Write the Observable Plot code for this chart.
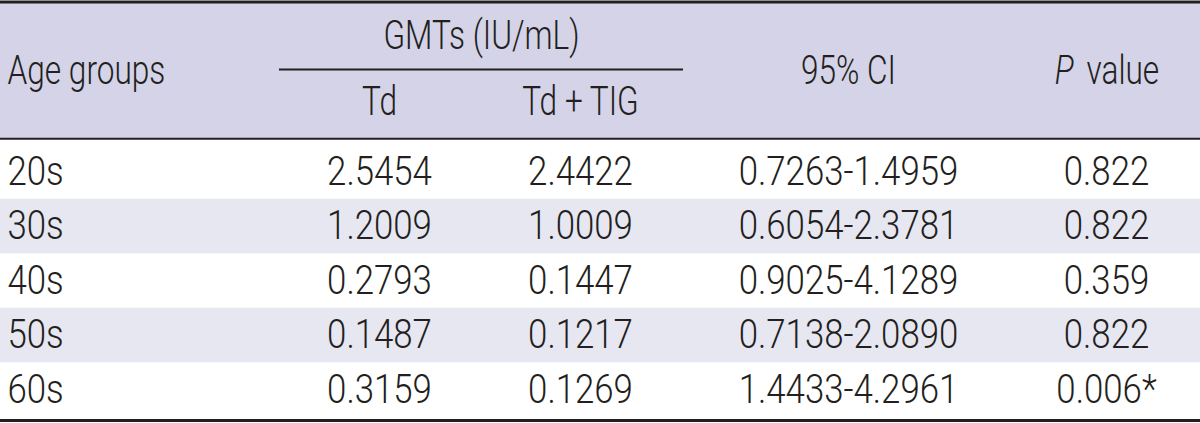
<!DOCTYPE html>
<html>
<head>
<meta charset="utf-8">
<script src="https://cdn.jsdelivr.net/npm/d3@7"></script>
<script src="https://cdn.jsdelivr.net/npm/@observablehq/plot@0.6"></script>
<style>
  html, body { margin: 0; padding: 0; background: #ffffff; }
  #chart svg { display: block; }
</style>
</head>
<body>
<div id="chart"></div>
<script>
// ---- Data ----
const ageGroups = ["20s", "30s", "40s", "50s", "60s"];
const gmtTd = [2.5454, 1.2009, 0.2793, 0.1487, 0.3159];
const gmtTdTig = [2.4422, 1.0009, 0.1447, 0.1217, 0.1269];
const ciLower = [0.7263, 0.6054, 0.9025, 0.7138, 1.4433];
const ciUpper = [1.4959, 2.3781, 4.1289, 2.0890, 4.2961];
const pValues = [0.822, 0.822, 0.359, 0.822, 0.006];
const significant = [false, false, false, false, true];

const headerAge = "Age groups";
const headerGroup = "GMTs (IU/mL)";
const headerTd = "Td";
const headerTdTig = "Td + TIG";
const headerCI = "95% CI";
const headerPItalic = "P";
const headerPRest = "value";

// ---- Layout (positions/styles kept separate from data) ----
const layout = {
  colX: { group: 7, td: 379, tdtig: 580, ci: 848, p: 1106, pItalicEnd: 1073, pRestStart: 1086 },
  groupRule: [279, 683],
  yTop: -2.62, yHeaderLine: -0.11, yBottom: 5.06,
  yGroupText: -1.99, yGroupRule: -1.38, ySubText: -0.78, yHeaderMid: -1.35
};
const ink = "#231f20";
const headerFill = "#d4d3e7";
const stripeFill = "#e7e7f2";
const font = "Roboto, 'Liberation Sans', Arial, sans-serif";
const fontWeight = 300;
const fontSize = 40;
const condenseDigits = 0.87;
const condenseLetters = 0.79;

const fmt4 = d3.format(".4f");
const fmt3 = d3.format(".3f");

const rows = ageGroups.map((g, i) => ({
  row: i,
  group: g,
  td: fmt4(gmtTd[i]),
  tdtig: fmt4(gmtTdTig[i]),
  ci: `${fmt4(ciLower[i])}-${fmt4(ciUpper[i])}`,
  p: fmt3(pValues[i]) + (significant[i] ? "*" : "")
}));
const striped = rows.filter(d => d.row % 2 === 1);

const textOpts = { fill: ink, fontSize, fontWeight, lineAnchor: "middle" };

const chart = Plot.plot({
  width: 1200,
  height: 423,
  margin: 0,
  style: { fontFamily: font, background: "#ffffff" },
  x: { domain: [0, 1200], range: [0, 1200], axis: null },
  y: { domain: [layout.yTop, layout.yBottom], range: [1.5, 420], axis: null },
  marks: [
    // header background
    Plot.rect([{}], { x1: 0, x2: 1200, y1: layout.yTop, y2: layout.yHeaderLine, fill: headerFill }),
    // striped rows
    Plot.rect(striped, { x1: 0, x2: 1200, y1: d => d.row, y2: d => d.row + 1, fill: stripeFill }),
    // rules
    Plot.ruleY([layout.yTop], { stroke: ink, strokeWidth: 3 }),
    Plot.ruleY([layout.yHeaderLine], { stroke: ink, strokeWidth: 2 }),
    Plot.ruleY([layout.yBottom], { stroke: ink, strokeWidth: 3 }),
    Plot.ruleY([layout.yGroupRule], { x1: layout.groupRule[0], x2: layout.groupRule[1], stroke: ink, strokeWidth: 2 }),
    // header text
    Plot.text([headerAge], { ...textOpts, x: layout.colX.group, y: layout.yHeaderMid, text: d => d, textAnchor: "start" }),
    Plot.text([headerGroup], { ...textOpts, x: (layout.groupRule[0] + layout.groupRule[1]) / 2, y: layout.yGroupText, text: d => d }),
    Plot.text([headerTd], { ...textOpts, x: layout.colX.td, y: layout.ySubText, text: d => d }),
    Plot.text([headerTdTig], { ...textOpts, x: layout.colX.tdtig, y: layout.ySubText, text: d => d }),
    Plot.text([headerCI], { ...textOpts, x: layout.colX.ci, y: layout.yHeaderMid, text: d => d }),
    Plot.text([headerPItalic], { ...textOpts, x: layout.colX.pItalicEnd, y: layout.yHeaderMid, text: d => d, textAnchor: "end", fontStyle: "italic" }),
    Plot.text([headerPRest], { ...textOpts, x: layout.colX.pRestStart, y: layout.yHeaderMid, text: d => d, textAnchor: "start" }),
    // body text
    Plot.text(rows, { ...textOpts, x: () => layout.colX.group, y: d => d.row + 0.5, text: "group", textAnchor: "start" }),
    Plot.text(rows, { ...textOpts, x: () => layout.colX.td, y: d => d.row + 0.5, text: "td" }),
    Plot.text(rows, { ...textOpts, x: () => layout.colX.tdtig, y: d => d.row + 0.5, text: "tdtig" }),
    Plot.text(rows, { ...textOpts, x: () => layout.colX.ci, y: d => d.row + 0.5, text: "ci" }),
    Plot.text(rows, { ...textOpts, x: () => layout.colX.p, y: d => d.row + 0.5, text: "p" })
  ]
});
document.getElementById("chart").appendChild(chart);

// Condense glyphs to mimic the original condensed typeface
chart.querySelectorAll("text").forEach(t => {
  const len = t.getComputedTextLength();
  if (!len) return;
  const isNumeric = /^[0-9.\-*s]+$/.test(t.textContent.trim());
  const f = isNumeric ? condenseDigits : condenseLetters;
  t.setAttribute("textLength", (len * f).toFixed(2));
  t.setAttribute("lengthAdjust", "spacingAndGlyphs");
});
</script>
</body>
</html>
